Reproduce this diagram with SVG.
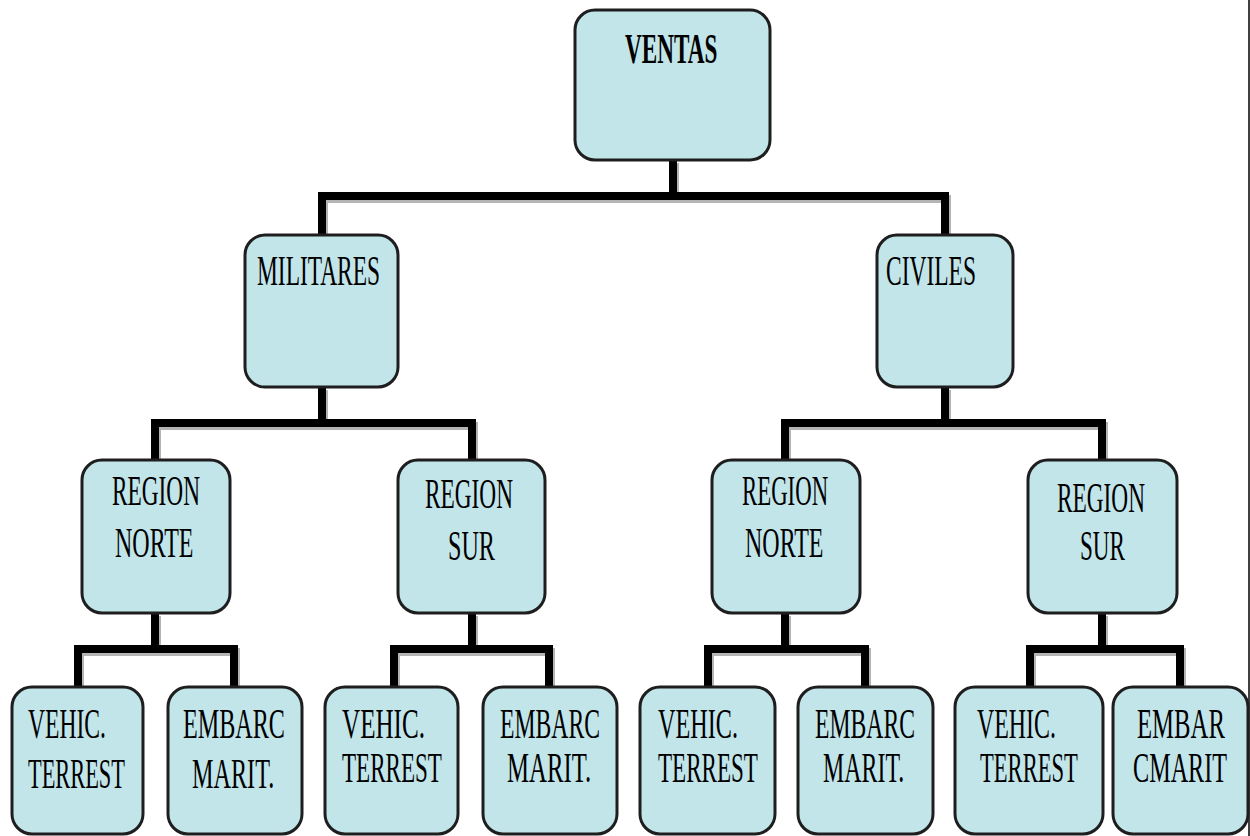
<svg xmlns="http://www.w3.org/2000/svg" width="1250" height="836" viewBox="0 0 1250 836">
<style>
.box{fill:#c2e5ea;stroke:#1e1e1e;stroke-width:3}
.ln{fill:none;stroke:#000;stroke-width:8;stroke-linejoin:miter;stroke-linecap:butt}
.sh{fill:none;stroke:#b4b4b4;stroke-width:8;stroke-linejoin:miter;stroke-linecap:butt}
text{font-family:"Liberation Serif","Times New Roman",serif;font-size:42px;fill:#000}
.b{font-weight:bold}
</style>
<rect width="1250" height="836" fill="#fff"/>
<line x1="1249" y1="0" x2="1249" y2="836" stroke="#000" stroke-width="1.5"/>
<g id="connectors">
<g transform="translate(2,3)">
<path class="sh" d="M673 160V196M322 235V196H945V235"/>
<path class="sh" d="M322 387V423M155 460V423H472V460"/>
<path class="sh" d="M945 387V423M785 460V423H1102V460"/>
<path class="sh" d="M155 613V649M78 687V649H234V687"/>
<path class="sh" d="M472 613V649M394 687V649H549V687"/>
<path class="sh" d="M785 613V649M708 687V649H865V687"/>
<path class="sh" d="M1102 613V649M1030 687V649H1180V687"/>
</g>
<path class="ln" d="M673 160V196M322 235V196H945V235"/>
<path class="ln" d="M322 387V423M155 460V423H472V460"/>
<path class="ln" d="M945 387V423M785 460V423H1102V460"/>
<path class="ln" d="M155 613V649M78 687V649H234V687"/>
<path class="ln" d="M472 613V649M394 687V649H549V687"/>
<path class="ln" d="M785 613V649M708 687V649H865V687"/>
<path class="ln" d="M1102 613V649M1030 687V649H1180V687"/>
</g>
<g id="ventas"><rect class="box" x="575" y="10" width="195" height="150" rx="20"/><text class="b" transform="translate(625,63) scale(0.552,1)">VENTAS</text></g>
<g id="militares"><rect class="box" x="245" y="235" width="153" height="152" rx="20"/><text transform="translate(257,285) scale(0.558,1)">MILITARES</text></g>
<g id="civiles"><rect class="box" x="877" y="235" width="136" height="152" rx="20"/><text transform="translate(886,285) scale(0.559,1)">CIVILES</text></g>
<g id="mil-norte"><rect class="box" x="82" y="460" width="148" height="153" rx="20"/><text transform="translate(112,505) scale(0.555,1)">REGION</text><text transform="translate(115,557) scale(0.571,1)">NORTE</text></g>
<g id="mil-sur"><rect class="box" x="398" y="460" width="147" height="153" rx="20"/><text transform="translate(425,508) scale(0.555,1)">REGION</text><text transform="translate(448,560) scale(0.575,1)">SUR</text></g>
<g id="civ-norte"><rect class="box" x="712" y="460" width="148" height="153" rx="20"/><text transform="translate(742,505) scale(0.543,1)">REGION</text><text transform="translate(745,557) scale(0.571,1)">NORTE</text></g>
<g id="civ-sur"><rect class="box" x="1028" y="460" width="149" height="153" rx="20"/><text transform="translate(1057,512) scale(0.555,1)">REGION</text><text transform="translate(1080,560) scale(0.551,1)">SUR</text></g>
<g id="mn-vehic"><rect class="box" x="12" y="687" width="131" height="147" rx="20"/><text transform="translate(28,738) scale(0.562,1)">VEHIC.</text><text transform="translate(28,788) scale(0.533,1)">TERREST</text></g>
<g id="mn-embarc"><rect class="box" x="168" y="687" width="134" height="147" rx="20"/><text transform="translate(183,738) scale(0.575,1)">EMBARC</text><text transform="translate(192,788) scale(0.576,1)">MARIT.</text></g>
<g id="ms-vehic"><rect class="box" x="325" y="687" width="133" height="147" rx="20"/><text transform="translate(342,738) scale(0.598,1)">VEHIC.</text><text transform="translate(342,782) scale(0.549,1)">TERREST</text></g>
<g id="ms-embarc"><rect class="box" x="483" y="687" width="134" height="147" rx="20"/><text transform="translate(500,738) scale(0.564,1)">EMBARC</text><text transform="translate(507,782) scale(0.59,1)">MARIT.</text></g>
<g id="cn-vehic"><rect class="box" x="640" y="687" width="135" height="147" rx="20"/><text transform="translate(658,738) scale(0.576,1)">VEHIC.</text><text transform="translate(658,782) scale(0.549,1)">TERREST</text></g>
<g id="cn-embarc"><rect class="box" x="798" y="687" width="135" height="147" rx="20"/><text transform="translate(815,738) scale(0.564,1)">EMBARC</text><text transform="translate(823,782) scale(0.569,1)">MARIT.</text></g>
<g id="cs-vehic"><rect class="box" x="955" y="687" width="148" height="147" rx="20"/><text transform="translate(977,738) scale(0.569,1)">VEHIC.</text><text transform="translate(980,782) scale(0.538,1)">TERREST</text></g>
<g id="cs-embar"><rect class="box" x="1113" y="687" width="135" height="147" rx="20"/><text transform="translate(1137,738) scale(0.589,1)">EMBAR</text><text transform="translate(1133,782) scale(0.576,1)">CMARIT</text></g>
</svg>
